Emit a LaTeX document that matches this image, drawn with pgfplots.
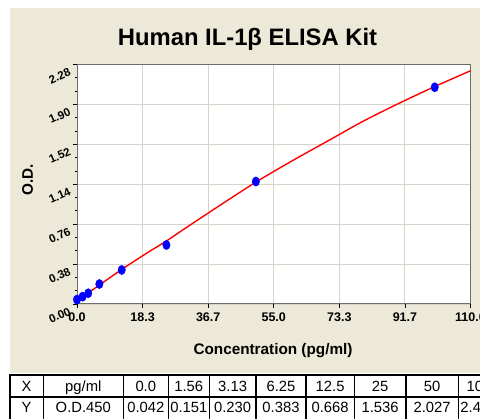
\documentclass[border=0pt]{standalone}
\usepackage{fontspec}
\setmainfont{Liberation Sans}
\usepackage{pgfplots}
\pgfplotsset{compat=1.18}
\definecolor{bgbeige}{HTML}{ECE9D8}
\definecolor{gridc}{HTML}{D6D3CA}
\definecolor{framec}{HTML}{6E6E6E}
\begin{document}
\begin{tikzpicture}[x=1pt,y=1pt]
\useasboundingbox (0,0) rectangle (480,419);
\fill[bgbeige] (10,46) rectangle (480,411);
\node[anchor=base,font=\bfseries\fontsize{23.8}{27}\selectfont] at (247.5,373) {Human IL-1β ELISA Kit};
\begin{axis}[
  scale only axis, width=393.5pt, height=239.5pt,
  at={(77pt,115pt)}, anchor=south west,
  xmin=0, xmax=110, ymin=0, ymax=2.28,
  xtick={0,18.3333,36.6667,55,73.3333,91.6667,110},
  xticklabels={0.0,18.3,36.7,55.0,73.3,91.7,110.0},
  ytick={0,0.38,0.76,1.14,1.52,1.90,2.28},
  yticklabels={0.00,0.38,0.76,1.14,1.52,1.90,2.28},
  minor x tick num=3, minor y tick num=2,
  xtick pos=left, ytick pos=left,
  tick align=outside, major tick length=4pt, minor tick length=2.5pt,
  tick style={black, line width=0.8pt},
  grid=major, major grid style={gridc, line width=0.9pt},
  axis line style={framec, line width=1pt},
  axis background/.style={fill=white},
  /pgf/number format/assume math mode=true,
  xticklabel style={font=\bfseries\fontsize{12.5}{14}\selectfont, yshift=-1pt},
  yticklabel style={font=\bfseries\fontsize{11.5}{13}\selectfont, rotate=24, anchor=east, yshift=-5pt, xshift=-2pt},
]
\addplot[red, line width=1.4pt, smooth] coordinates {
 (0,0.031) (5,0.15) (10,0.27) (15,0.385) (20,0.495) (25,0.60) (30,0.715)
 (40,0.94) (50,1.16) (60,1.36) (70,1.55) (80,1.74) (90,1.91) (100,2.07) (110,2.22)};
\addplot[only marks, mark=*, color=blue, mark size=4.4pt, mark options={xscale=0.85, yscale=1.05, draw=blue, fill=blue}] coordinates {
 (0,0.042) (1.56,0.07) (3.13,0.102) (6.25,0.19) (12.5,0.324) (25,0.562) (50,1.166) (100,2.063)};
\end{axis}
\node[anchor=base,font=\bfseries\fontsize{15.3}{17}\selectfont] at (273,64) {Concentration (pg/ml)};
\node[rotate=90,font=\bfseries\fontsize{15.3}{17}\selectfont] at (27.5,239) {O.D.};
% table
\fill[white] (10,-2) rectangle (482,45);
\begin{scope}[line width=1.6pt]
\draw (10,44) -- (482,44);
\draw (10,22) -- (482,22);
\foreach \cx in {10,43.3,123.3,168.3,209.3,256,306,354.3,406,458.3}
  \draw (\cx,44.8) -- (\cx,-2);
\end{scope}
\begin{scope}[every node/.style={anchor=base,font=\fontsize{14.8}{17}\selectfont}]
\node at (26.6,27) {X};
\node at (83.3,27) {pg/ml};
\node at (145.8,27) {0.0};
\node at (188.8,27) {1.56};
\node at (232.6,27) {3.13};
\node at (281,27) {6.25};
\node at (330.1,27) {12.5};
\node at (380.1,27) {25};
\node at (432.1,27) {50};
\node at (479,27) {100};
\node at (26.6,6) {Y};
\node at (83.3,6) {O.D.450};
\node at (145.8,6) {0.042};
\node at (188.8,6) {0.151};
\node at (232.6,6) {0.230};
\node at (281,6) {0.383};
\node at (330.1,6) {0.668};
\node at (380.1,6) {1.536};
\node at (432.1,6) {2.027};
\node at (479,6) {2.400};
\end{scope}
\end{tikzpicture}
\end{document}
